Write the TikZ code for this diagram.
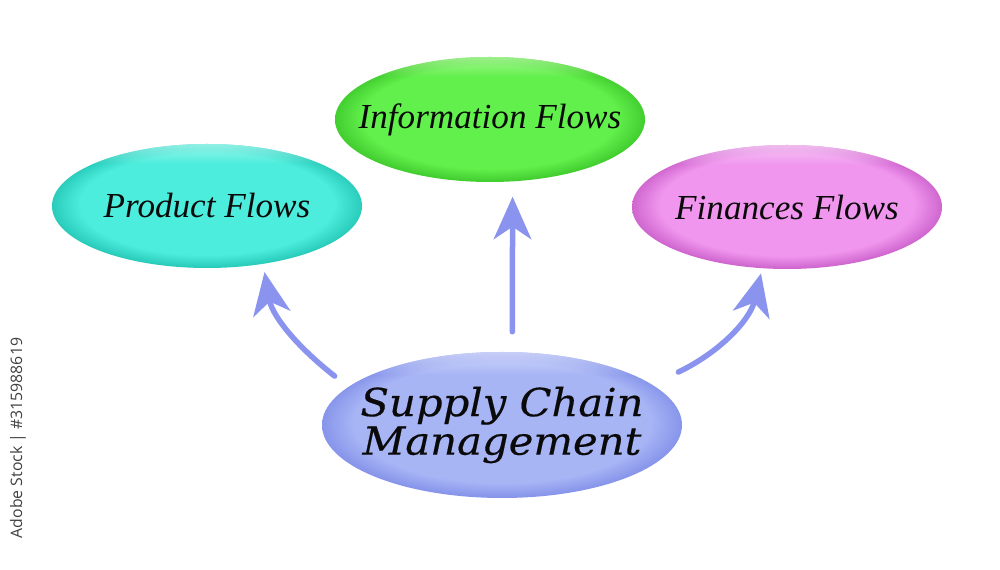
\documentclass[tikz,border=0pt]{standalone}
\usepackage{fontspec}
\setmainfont{Liberation Serif}
\newfontfamily\scmfont[FakeStretch=1.08,FakeBold=0.4]{DejaVu Serif}
\newfontfamily\wmfont{Open Sans}
\usetikzlibrary{arrows.meta,shapes.geometric,fadings}
\definecolor{prodtop}{HTML}{B4FBF3}
\definecolor{prodbase}{HTML}{4CEDDC}
\definecolor{prodrim}{HTML}{22C4B3}
\definecolor{infotop}{HTML}{BBFBA8}
\definecolor{infobase}{HTML}{62F04C}
\definecolor{inforim}{HTML}{3CC62A}
\definecolor{fintop}{HTML}{FAD8F9}
\definecolor{finbase}{HTML}{F096EE}
\definecolor{finrim}{HTML}{C85CC8}
\definecolor{scmtop}{HTML}{DCE2FC}
\definecolor{scmbase}{HTML}{A8B5F5}
\definecolor{scmrim}{HTML}{808EE8}
\definecolor{arrowblue}{HTML}{8A94EE}
\definecolor{ink}{HTML}{0A0A0A}
\colorlet{elltop}{white}
\colorlet{ellbase}{white}
\colorlet{ellrim}{white}
\pgfdeclareradialshading[ellbase,ellrim]{glossy}{\pgfpoint{0bp}{2.5bp}}{color(0bp)=(ellbase); color(20.5bp)=(ellbase); color(26bp)=(ellrim); color(30bp)=(ellrim)}
\pgfdeclareverticalshading{topglowshade}{100bp}{color(0bp)=(pgftransparent!100); color(67bp)=(pgftransparent!100); color(75bp)=(pgftransparent!25); color(100bp)=(pgftransparent!25)}
\pgfdeclarefading{topglow}{\pgfuseshading{topglowshade}}
\tikzset{
  flowell/.style n args={3}{ellipse,draw=none,inner sep=0pt,
    /utils/exec={\colorlet{elltop}{#1}\colorlet{ellbase}{#2}\colorlet{ellrim}{#3}},shading=glossy,
    path picture={\fill[elltop,path fading=topglow] (path picture bounding box.south west) rectangle (path picture bounding box.north east);}},
  labeltxt/.style={font=\fontsize{20}{22}\selectfont\itshape,text=ink,inner sep=0pt},
  scmtxt/.style={font=\scmfont\fontsize{22}{20.5}\selectfont\itshape,text=ink,align=center,inner sep=0pt},
  flowarrow/.style={-{Stealth[length=8.5mm,width=7.5mm,inset=2.5mm]},line width=1.1mm,draw=arrowblue,line cap=round},
  wmark/.style={font=\wmfont\fontsize{9}{9}\selectfont,text=black!75,inner sep=0pt},
}

\begin{document}
\begin{tikzpicture}[x=0.2mm,y=-0.2mm]
  \useasboundingbox (0,0) rectangle (1000,570);

  \node[flowell={prodtop}{prodbase}{prodrim},minimum width=62mm,minimum height=24.8mm] (pf) at (207,206) {};
  \node[flowell={infotop}{infobase}{inforim},minimum width=62mm,minimum height=25mm] (info) at (490,119.5) {};
  \node[flowell={fintop}{finbase}{finrim},minimum width=62mm,minimum height=24.8mm] (fin) at (787,207) {};
  \node[flowell={scmtop}{scmbase}{scmrim},minimum width=72mm,minimum height=29.2mm] (scm) at (502,425) {};

  \node[labeltxt] (pf-t) at (pf) {Product Flows};
  \node[labeltxt] (info-t) at (info) {Information Flows};
  \node[labeltxt] (fin-t) at (fin) {Finances Flows};
  \node[scmtxt] (scm-t) at (scm) {Supply Chain\\Management};

  \draw[flowarrow,shorten >=1.6mm] ([shift={(-33,0)}]scm.160) .. controls (295,345) and (272,315) .. (pf.-46);
  \draw[flowarrow,shorten <=4mm,shorten >=3mm] (scm.82) -- (info.-70);
  \draw[flowarrow,shorten >=1mm] ([shift={(42,-4)}]scm.20) .. controls (720,352) and (750,320) .. (fin.-112);

  \node[wmark,rotate=90] (stock) at (18,438) {Adobe Stock | \#315988619};
\end{tikzpicture}
\end{document}
